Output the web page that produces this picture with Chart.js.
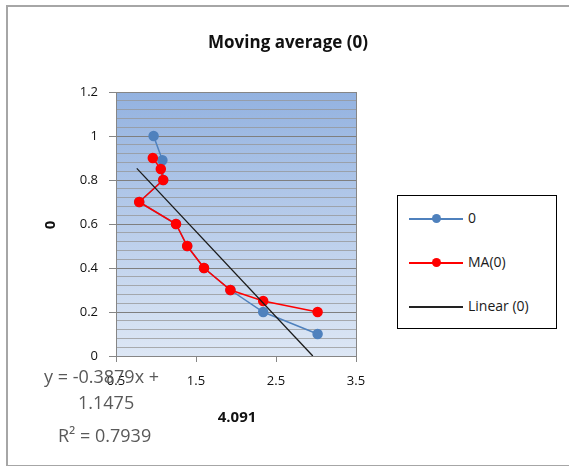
<!DOCTYPE html>
<html><head><meta charset="utf-8">
<script src="https://cdn.jsdelivr.net/npm/chart.js@4/dist/chart.umd.min.js"></script>
<style>
html,body{margin:0;padding:0;background:#fff;}
#wrap{position:relative;width:569px;height:466px;overflow:hidden;}
#frame{position:absolute;left:6px;top:5px;width:600px;height:458px;border:2px solid #a6a6a6;border-right:none;}
canvas{position:absolute;left:0;top:0;}
#legend{position:absolute;left:397px;top:195px;width:158px;height:132px;border:1.5px solid #000;background:#fff;font-family:"Open Sans",sans-serif;font-size:14px;color:#1a1a1a;}
.row{position:absolute;left:11px;height:20px;}
.ln{position:absolute;left:0;top:10px;width:54px;height:2px;}
.dot{position:absolute;left:23px;top:6px;width:9px;height:9px;border-radius:50%;}
.tx{position:absolute;left:59px;top:0;white-space:nowrap;}
</style></head>
<body>
<div id="wrap">
<div id="frame"></div>
<canvas id="c" width="569" height="466"></canvas>
<div id="legend">
 <div class="row" style="top:12px"><div class="ln" style="background:#4f81bd"></div><div class="dot" style="background:#4f81bd"></div><div class="tx">0</div></div>
 <div class="row" style="top:56px"><div class="ln" style="background:#ff0000"></div><div class="dot" style="background:#ff0000"></div><div class="tx">MA(0)</div></div>
 <div class="row" style="top:100px"><div class="ln" style="background:#222"></div><div class="tx">Linear (0)</div></div>
</div>
</div>
<script>
const titleText = "Moving average (0)";
const xTitle = "4.091";
const yTitle = "0";
const eqLines = ["y = -0.3879x +", "1.1475", "R\u00b2 = 0.7939"];
const xTickLabels = ["0.5", "1.5", "2.5", "3.5"];
const seriesX = [0.97, 1.08, 1.09, 0.79, 1.25, 1.39, 1.60, 1.93, 2.34, 3.02];
const seriesY = [1.00, 0.89, 0.80, 0.70, 0.60, 0.50, 0.40, 0.30, 0.20, 0.10];
const maX = [0.96, 1.06, 1.09, 0.79, 1.25, 1.39, 1.60, 1.93, 2.34, 3.02];
const maY = [0.90, 0.85, 0.80, 0.70, 0.60, 0.50, 0.40, 0.30, 0.25, 0.20];
const trendX = [0.76, 2.96];
const trendY = [0.853, 0.0];

const pts = (xs, ys) => xs.map((x, i) => ({x: x, y: ys[i]}));

const bgPlugin = {
  id: 'bg',
  beforeDraw(chart) {
    const {ctx, chartArea: a} = chart;
    const g = ctx.createLinearGradient(0, a.top, 0, a.bottom);
    g.addColorStop(0, '#93b2e0');
    g.addColorStop(1, '#dde7f5');
    ctx.save();
    ctx.fillStyle = g;
    ctx.fillRect(a.left, a.top, a.right - a.left, a.bottom - a.top);
    ctx.restore();
  },
  afterDraw(chart) {
    const {ctx, chartArea: a} = chart;
    ctx.save();
    ctx.strokeStyle = '#868686';
    ctx.lineWidth = 1;
    ctx.strokeRect(Math.round(a.left) + 0.5, Math.round(a.top) + 0.5, Math.round(a.right - a.left), Math.round(a.bottom - a.top));
    ctx.fillStyle = '#111';
    ctx.textAlign = 'center';
    ctx.textBaseline = 'middle';
    ctx.font = 'bold 17px "Open Sans", sans-serif';
    ctx.fillText(titleText, 288, 43);
    ctx.font = 'bold 15px "Open Sans", sans-serif';
    ctx.fillText(xTitle, 237, 418);
    ctx.save();
    ctx.translate(51, 225);
    ctx.rotate(-Math.PI / 2);
    ctx.fillText(yTitle, 0, 0);
    ctx.restore();
    ctx.fillStyle = '#595959';
    ctx.font = '18px "Open Sans", sans-serif';
    ctx.textAlign = 'left';
    ctx.fillText(eqLines[0], 44, 378);
    ctx.fillText(eqLines[1], 78, 404);
    ctx.fillText(eqLines[2], 58, 437);
    ctx.restore();
  }
};

new Chart(document.getElementById('c'), {
  type: 'scatter',
  data: {
    datasets: [
      {label: 'Linear (0)', data: pts(trendX, trendY), showLine: true, borderColor: '#1a1a1a', borderWidth: 1.3, pointRadius: 0, order: 0},
      {label: 'MA(0)', data: pts(maX, maY), showLine: true, borderColor: '#ff0000', backgroundColor: '#ff0000', borderWidth: 1.5, pointRadius: 4.5, pointHoverRadius: 4.5, order: 1},
      {label: '0', data: pts(seriesX, seriesY), showLine: true, borderColor: '#4f81bd', backgroundColor: '#4f81bd', borderWidth: 1.5, pointRadius: 4.5, pointHoverRadius: 4.5, order: 2}
    ]
  },
  options: {
    responsive: false,
    animation: false,
    events: [],
    layout: {padding: {left: 0, top: 92, right: 213, bottom: 0}},
    plugins: {legend: {display: false}, title: {display: false}, tooltip: {enabled: false}},
    scales: {
      x: {
        type: 'linear', min: 0.5, max: 3.5,
        afterFit(s) { s.height = 110; },
        afterBuildTicks(s) { s.ticks = xTickLabels.map(t => ({value: parseFloat(t)})); },
        ticks: {callback: (v) => xTickLabels.find(t => parseFloat(t) === v) || '', color: '#111', font: {size: 13, family: '"Open Sans", sans-serif'}, padding: 11, maxRotation: 0, autoSkip: false},
        grid: {display: true, drawOnChartArea: false, tickLength: 6, color: '#868686'},
        border: {color: '#868686'}
      },
      y: {
        type: 'linear', min: 0, max: 1.2,
        afterFit(s) { s.width = 116; },
        ticks: {stepSize: 0.04, autoSkip: false, color: '#111', font: {size: 13, family: '"Open Sans", sans-serif'}, padding: 11,
          callback: (v) => { const k = Math.round(v * 100); return k % 20 === 0 ? String(Math.round(v * 10) / 10) : ''; }},
        grid: {
          tickLength: 7,
          color: (c) => { const k = Math.round(c.tick.value * 100); return k % 20 === 0 ? '#7f7f7f' : 'rgba(150,150,150,0.75)'; },
          tickColor: (c) => { const k = Math.round(c.tick.value * 100); return k % 20 === 0 ? '#868686' : 'rgba(0,0,0,0)'; },
          lineWidth: 1
        },
        border: {color: '#868686'}
      }
    }
  },
  plugins: [bgPlugin]
});
</script>
</body></html>
